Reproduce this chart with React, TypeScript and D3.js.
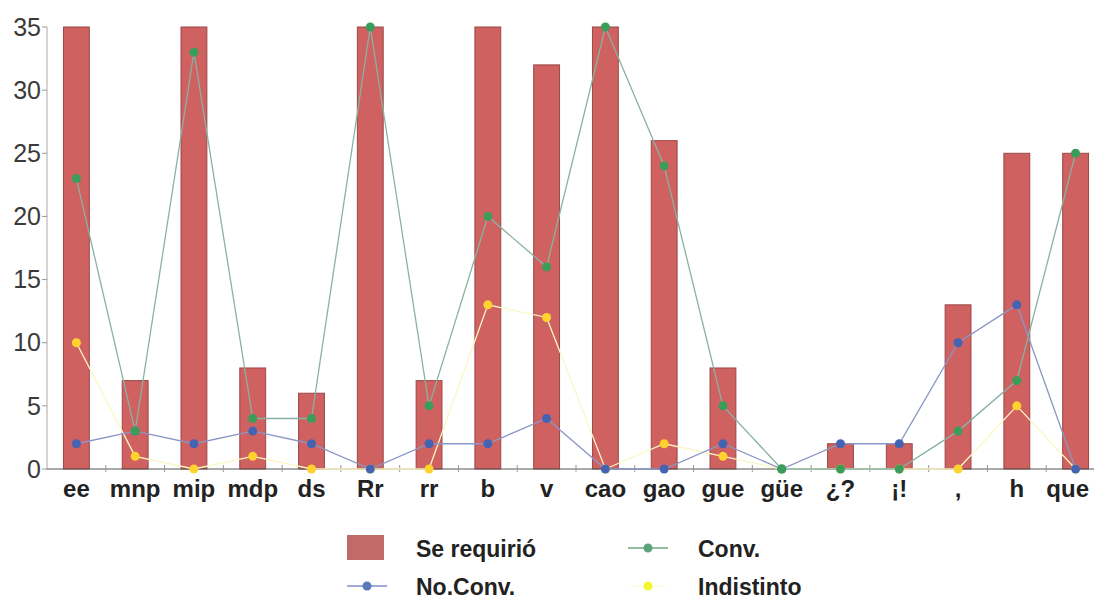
import React from "react";
import * as d3 from "d3";

const categories = ["ee", "mnp", "mip", "mdp", "ds", "Rr", "rr", "b", "v", "cao", "gao", "gue", "güe", "¿?", "¡!", ",", "h", "que"];
const seRequirio = [35, 7, 35, 8, 6, 35, 7, 35, 32, 35, 26, 8, 0, 2, 2, 13, 25, 25];
const conv = [23, 3, 33, 4, 4, 35, 5, 20, 16, 35, 24, 5, 0, 0, 0, 3, 7, 25];
const noConv = [2, 3, 2, 3, 2, 0, 2, 2, 4, 0, 0, 2, 0, 2, 2, 10, 13, 0];
const indistinto = [10, 1, 0, 1, 0, 0, 0, 13, 12, 0, 2, 1, 0, 0, 0, 0, 5, 0];
const yTicks = [0, 5, 10, 15, 20, 25, 30, 35];

const W = 1094;
const H = 600;
const FONT = "'Liberation Sans', Arial, sans-serif";

export default function App() {
  const x = d3.scaleBand<string>().domain(categories).range([47, 1105]).padding(0);
  const y = d3.scaleLinear().domain([0, 35]).range([469, 27]);
  const bw = x.bandwidth() * 0.44;
  const cx = (i: number) => (x(categories[i]) as number) + x.bandwidth() / 2;
  const line = d3
    .line<number>()
    .x((_, i) => cx(i))
    .y((d) => y(d));

  const series = [
    { data: indistinto, line: "#fbf7c4", dot: "#ffd22e" },
    { data: noConv, line: "#8a96c6", dot: "#4463b3" },
    { data: conv, line: "#88b2a2", dot: "#3b9d5a" },
  ];

  return (
    <svg width={W} height={H} style={{ position: "absolute", left: 0, top: 0, background: "#fff" }} fontFamily={FONT}>
      {seRequirio.map((v, i) => (
        <rect
          key={"b" + i}
          x={cx(i) - bw / 2}
          y={y(v)}
          width={bw}
          height={y(0) - y(v)}
          fill="#cf6161"
          stroke="#9c4747"
          strokeWidth={1}
        />
      ))}
      <line x1={47} x2={47} y1={y(35)} y2={y(0)} stroke="#aaa" strokeWidth={1} />
      {yTicks.map((t) => (
        <g key={"yt" + t}>
          <line x1={42} x2={47} y1={y(t)} y2={y(t)} stroke="#999" />
          <text x={41} y={y(t)} dy="0.35em" textAnchor="end" fontSize={25} fill="#3a3a3a">
            {t}
          </text>
        </g>
      ))}
      <line x1={47} x2={W} y1={y(0)} y2={y(0)} stroke="#555" strokeWidth={1} />
      {categories.slice(1).map((c, i) => (
        <line key={"xt" + i} x1={x(c) as number} x2={x(c) as number} y1={y(0) - 4} y2={y(0) + 3} stroke="#999" />
      ))}
      {categories.map((c, i) => {
        const last = i === categories.length - 1;
        return (
          <text
            key={"xl" + i}
            x={last ? W - 5 : cx(i)}
            y={497}
            textAnchor={last ? "end" : "middle"}
            fontSize={24}
            fontWeight="bold"
            fill="#222"
          >
            {c}
          </text>
        );
      })}
      {series.map((s, k) => (
        <path key={"l" + k} d={line(s.data) || ""} fill="none" stroke={s.line} strokeWidth={1.3} />
      ))}
      {series.map((s, k) =>
        s.data.map((v, i) => <circle key={"d" + k + "-" + i} cx={cx(i)} cy={y(v)} r={4.5} fill={s.dot} />)
      )}
      <rect x={347} y={535} width={37} height={25} fill="#c26a68" />
      <text x={416} y={549} dy="0.35em" fontSize={23} fontWeight="bold" fill="#222">Se requirió</text>
      <line x1={628} x2={668} y1={548} y2={548} stroke="#6aa886" strokeWidth={1.5} />
      <circle cx={648} cy={548} r={4.5} fill="#5fa37d" />
      <text x={698} y={549} dy="0.35em" fontSize={23} fontWeight="bold" fill="#222">Conv.</text>
      <line x1={347} x2={387} y1={586} y2={586} stroke="#7d8fc8" strokeWidth={1.5} />
      <circle cx={367} cy={586} r={4.5} fill="#5e78bd" />
      <text x={416} y={587} dy="0.35em" fontSize={23} fontWeight="bold" fill="#222">No.Conv.</text>
      <line x1={628} x2={668} y1={586} y2={586} stroke="#fdfde0" strokeWidth={1.5} />
      <circle cx={648} cy={586} r={4.5} fill="#f2f531" />
      <text x={698} y={587} dy="0.35em" fontSize={23} fontWeight="bold" fill="#222">Indistinto</text>
    </svg>
  );
}
